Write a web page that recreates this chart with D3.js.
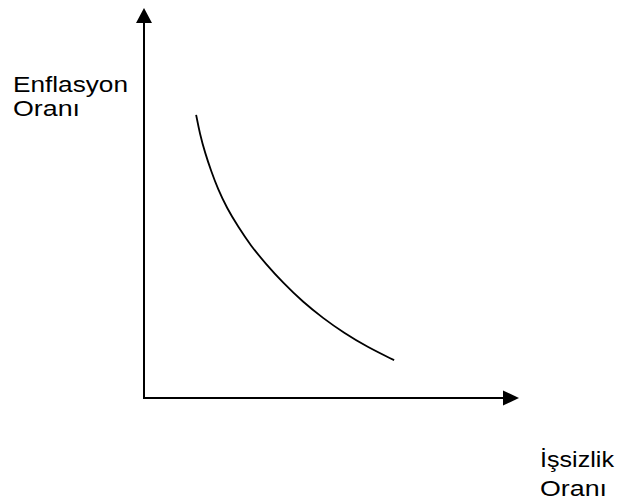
<!DOCTYPE html>
<html>
<head>
<meta charset="utf-8">
<script src="https://cdn.jsdelivr.net/npm/d3@7"></script>
<style>
  html, body { margin: 0; padding: 0; background: #fff; }
  svg { display: block; }
  text { font-family: Arial, "Liberation Sans", sans-serif; fill: #000; }
</style>
</head>
<body>
<svg id="chart" width="618" height="502"></svg>
<script>
// Phillips curve: unemployment (x) vs inflation (y), arbitrary units 0..100
const unemployment  = [13.9, 14.9, 16.3, 17.9, 19.7, 22.1, 25.1, 28.5, 32.5, 37.1, 42.4, 47.7, 53.3, 59.5, 66.7];
const inflation     = [72.6, 67.7, 62.8, 58.2, 53.6, 48.7, 43.9, 39.0, 34.4, 29.5, 24.6, 20.5, 16.7, 13.1, 9.7];
const yLabel        = ['Enflasyon', 'Oranı'];
const xLabel        = ['İşsizlik', 'Oranı'];

const svg = d3.select('#chart');

const x = d3.scaleLinear().domain([0, 100]).range([144, 519]);
const y = d3.scaleLinear().domain([0, 100]).range([398, 8]);

// axes
const ax = svg.append('g').attr('stroke', '#000').attr('stroke-width', 2);

ax.append('line')
    .attr('x1', x(0)).attr('y1', y(0) + 1)
    .attr('x2', x(0)).attr('y2', y(100) + 14);
ax.append('line')
    .attr('x1', x(0) - 1).attr('y1', y(0))
    .attr('x2', x(100) - 14).attr('y2', y(0));

// arrow heads
svg.append('path')
    .attr('d', `M${x(0)},${y(100)} L${x(0) - 8},${y(100) + 15} L${x(0) + 8},${y(100) + 15} Z`)
    .attr('fill', '#000');
svg.append('path')
    .attr('d', `M${x(100)},${y(0)} L${x(100) - 16},${y(0) - 7.5} L${x(100) - 16},${y(0) + 7.5} Z`)
    .attr('fill', '#000');

// curve
const pts = unemployment.map((u, i) => [u, inflation[i]]);
const line = d3.line()
    .x(d => x(d[0]))
    .y(d => y(d[1]))
    .curve(d3.curveBasis);

svg.append('path')
    .datum(pts)
    .attr('d', line)
    .attr('fill', 'none')
    .attr('stroke', '#000')
    .attr('stroke-width', 1.8);

// labels
const yl = svg.append('text').attr('font-size', 22);
yl.append('tspan').attr('x', 13).attr('y', 92).attr('textLength', 115)
    .attr('lengthAdjust', 'spacingAndGlyphs').text(yLabel[0]);
yl.append('tspan').attr('x', 13).attr('y', 116).attr('textLength', 67)
    .attr('lengthAdjust', 'spacingAndGlyphs').text(yLabel[1]);

const xl = svg.append('text').attr('font-size', 22);
xl.append('tspan').attr('x', 540).attr('y', 467).attr('textLength', 74)
    .attr('lengthAdjust', 'spacingAndGlyphs').text(xLabel[0]);
xl.append('tspan').attr('x', 540).attr('y', 496).attr('textLength', 67)
    .attr('lengthAdjust', 'spacingAndGlyphs').text(xLabel[1]);
</script>
</body>
</html>
